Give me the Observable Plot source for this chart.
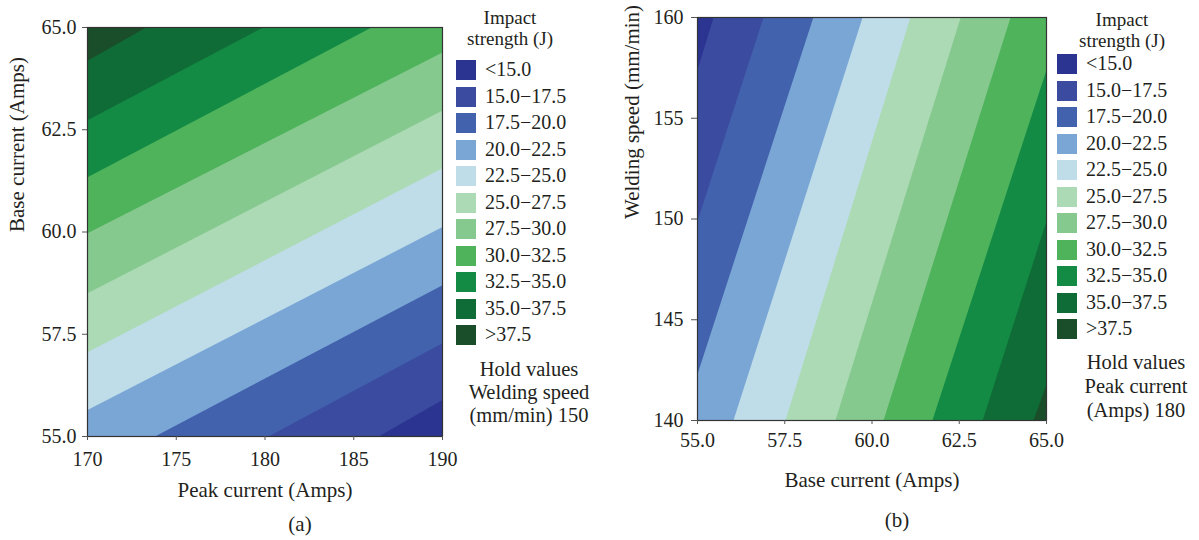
<!DOCTYPE html>
<html><head><meta charset="utf-8">
<script src="https://cdn.jsdelivr.net/npm/d3@7"></script>
<script src="https://cdn.jsdelivr.net/npm/@observablehq/plot@0.6"></script>
<style>
body{margin:0;background:#fff;}
#wrap{position:relative;width:1199px;height:540px;font-family:"Liberation Serif",serif;color:#231f20;overflow:hidden;}
.abs{position:absolute;white-space:nowrap;}
.sw{position:absolute;width:20px;height:20px;}
</style></head><body><div id="wrap"></div>
<script>
// ---- shared legend data ----
const levels = [15, 17.5, 20, 22.5, 25, 27.5, 30, 32.5, 35, 37.5];
const bandLabels = ["<15.0","15.0−17.5","17.5−20.0","20.0−22.5","22.5−25.0","25.0−27.5","27.5−30.0","30.0−32.5","32.5−35.0","35.0−37.5",">37.5"];
const bandColors = ["#2b3491","#3a4ba0","#4262ad","#7aa6d6","#bfdde8","#acdab5","#86c98f","#4fb35c","#138b45","#0f6c36","#1a4d2a"];

// ---- panel (a): Peak current (x) vs Base current (y) ----
const peakTicks = [170, 175, 180, 185, 190];
const baseTicksA = [55, 57.5, 60, 62.5, 65];
// contour line crossings on the plot edges [peak, base], one per level
const contourAStart = [[186.4,55],[180.2,55],[173.8,55],[170,55.65],[170,57.06],[170,58.50],[170,59.97],[170,61.34],[170,62.73],[170,64.19]];
const contourAEnd   = [[190,55.89],[190,57.28],[190,58.70],[190,60.12],[190,61.56],[190,62.97],[190,64.39],[186.0,65],[179.9,65],[173.3,65]];
const highCornerA = [170, 65];
const holdA = ["Hold values", "Welding speed", "(mm/min) 150"];

// ---- panel (b): Base current (x) vs Welding speed (y) ----
const baseTicksB = [55, 57.5, 60, 62.5, 65];
const speedTicks = [140, 145, 150, 155, 160];
const contourBStart = [[55,157.4],[55,149.9],[55,142.3],[56.03,140],[57.52,140],[58.95,140],[60.33,140],[61.73,140],[63.17,140],[64.63,140]];
const contourBEnd   = [[55.46,160],[56.89,160],[58.32,160],[59.73,160],[61.10,160],[62.54,160],[63.97,160],[65,157.4],[65,149.9],[65,141.8]];
const highCornerB = [65, 140];
const holdB = ["Hold values", "Peak current", "(Amps) 180"];

const legendTitle = ["Impact", "strength (J)"];

// clip a polygon by the half-plane on the ref side of line p1-p2
function clipHalfPlane(poly, p1, p2, ref) {
  const side = p => (p2[0]-p1[0])*(p[1]-p1[1]) - (p2[1]-p1[1])*(p[0]-p1[0]);
  const s = Math.sign(side(ref));
  const out = [];
  for (let i = 0; i < poly.length; i++) {
    const a = poly[i], b = poly[(i+1) % poly.length];
    const sa = side(a)*s, sb = side(b)*s;
    if (sa >= 0) out.push(a);
    if ((sa >= 0) !== (sb >= 0)) {
      const t = sa/(sa-sb);
      out.push([a[0]+t*(b[0]-a[0]), a[1]+t*(b[1]-a[1])]);
    }
  }
  return out;
}

function bandMarks(xd, yd, starts, ends, high) {
  const rect = [[xd[0],yd[0]],[xd[1],yd[0]],[xd[1],yd[1]],[xd[0],yd[1]]];
  const marks = [Plot.line(rect.map(p => ({x:p[0], y:p[1]})), {x:"x", y:"y", fill: bandColors[0], stroke:"none"})];
  levels.forEach((lv, k) => {
    const poly = clipHalfPlane(rect, starts[k], ends[k], high);
    marks.push(Plot.line(poly.map(p => ({x:p[0], y:p[1]})), {x:"x", y:"y", fill: bandColors[k+1], stroke:"none"}));
  });
  return marks;
}

const style = {background:"transparent", fontFamily:"'Liberation Serif', serif", fontSize:"20px", color:"#231f20", overflow:"visible"};

const plotA = Plot.plot({
  width: 450, height: 540,
  marginLeft: 87, marginRight: 8, marginTop: 27, marginBottom: 104,
  x: {domain: [170, 190]}, y: {domain: [55, 65]},
  style,
  marks: [
    ...bandMarks([170,190],[55,65], contourAStart, contourAEnd, highCornerA),
    Plot.frame({stroke:"#333", strokeWidth:1.2}),
    Plot.axisX(peakTicks, {tickSize:4, tickPadding:11, tickFormat: d => String(d), fontSize:20, stroke:"#555", label:null}),
    Plot.axisY(baseTicksA, {tickSize:5, tickPadding:6, tickFormat: d => d.toFixed(1), fontSize:20, stroke:"#555", label:null}),
    Plot.text(["Peak current (Amps)"], {text: d => d, frameAnchor:"bottom", dy:54, fontSize:21, lineAnchor:"middle"}),
    Plot.text(["Base current (Amps)"], {text: d => d, frameAnchor:"left", rotate:-90, dx:-70, fontSize:21, lineAnchor:"middle"})
  ]
});

const plotB = Plot.plot({
  width: 460, height: 540,
  marginLeft: 97, marginRight: 14, marginTop: 17, marginBottom: 120,
  x: {domain: [55, 65]}, y: {domain: [140, 160]},
  style,
  marks: [
    ...bandMarks([55,65],[140,160], contourBStart, contourBEnd, highCornerB),
    Plot.frame({stroke:"#333", strokeWidth:1.2}),
    Plot.axisX(baseTicksB, {tickSize:4, tickPadding:8, tickFormat: d => d.toFixed(1), fontSize:20, stroke:"#555", label:null}),
    Plot.axisY(speedTicks, {tickSize:6, tickPadding:8, tickFormat: d => String(d), fontSize:20, stroke:"#555", label:null}),
    Plot.text(["Base current (Amps)"], {text: d => d, frameAnchor:"bottom", dy:60, fontSize:21, lineAnchor:"middle"}),
    Plot.text(["Welding speed (mm/min)"], {text: d => d, frameAnchor:"left", rotate:-90, dx:-65, fontSize:21, lineAnchor:"middle"})
  ]
});

const wrap = document.getElementById("wrap");
function place(el, left, top) {
  el.style.position = "absolute"; el.style.left = left + "px"; el.style.top = top + "px";
  wrap.appendChild(el);
}
place(plotA, 0, 0);
place(plotB, 600, 0);

function div(cls, css, txt) {
  const d = document.createElement("div");
  d.className = cls; d.style.cssText = css; d.textContent = txt;
  wrap.appendChild(d); return d;
}

function legend(cfg) {
  legendTitle.forEach((t, i) => {
    div("abs", `left:${cfg.titleCx-80}px;top:${cfg.titleTop + i*21}px;width:160px;text-align:center;font-size:19px;line-height:21px;`, t);
  });
  bandLabels.forEach((lab, i) => {
    const top = cfg.swTop + i*26.5;
    div("sw", `left:${cfg.swLeft}px;top:${top}px;background:${bandColors[i]};`, "");
    div("abs", `left:${cfg.labLeft}px;top:${top-0.75}px;font-size:20px;line-height:20px;`, lab);
  });
  cfg.hold.forEach((t, i) => {
    div("abs", `left:${cfg.holdCx-80}px;top:${cfg.holdTop + i*cfg.holdLH}px;width:160px;text-align:center;font-size:20.5px;line-height:${cfg.holdLH}px;`, t);
  });
}

legend({titleCx:510, titleTop:7, swLeft:456, swTop:60, labLeft:485, holdCx:529, holdTop:357.5, holdLH:23, hold:holdA});
legend({titleCx:1122, titleTop:9, swLeft:1057, swTop:54, labLeft:1086, holdCx:1136, holdTop:350, holdLH:24, hold:holdB});

div("abs", "left:280px;top:514px;width:40px;text-align:center;font-size:21px;line-height:21px;", "(a)");
div("abs", "left:877px;top:510px;width:40px;text-align:center;font-size:21px;line-height:21px;", "(b)");
</script></body></html>
